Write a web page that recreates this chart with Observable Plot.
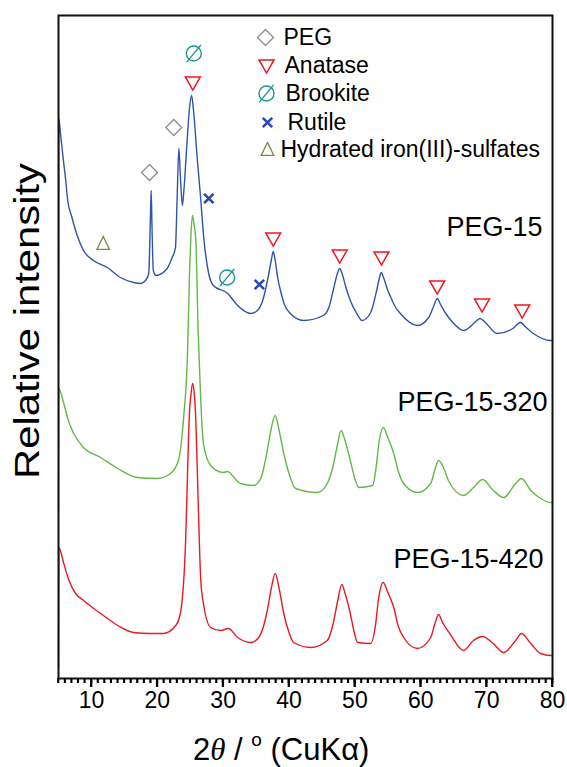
<!DOCTYPE html>
<html><head><meta charset="utf-8">
<script src="https://cdn.jsdelivr.net/npm/d3@7"></script>
<script src="https://cdn.jsdelivr.net/npm/@observablehq/plot@0.6"></script>
<style>body{margin:0;background:#fff}</style>
</head><body><div id="chart"></div>
<script>
// ---- data (2θ in degrees, relative intensity in arbitrary units incl. stacking offset) ----
const peg15_2theta = [5.0,5.05,5.3,5.8,6.1,6.4,7.0,7.6,8.8,10.3,12.4,14.4,16.4,17.5,18.2,18.7,18.95,19.07,19.2,19.4,19.8,21.5,22.2,22.76,23.0,23.27,23.5,23.8,24.0,24.5,24.9,25.2,25.5,26.05,26.55,27.05,27.8,28.5,30.7,32.2,34.2,35.2,35.9,36.4,36.9,37.3,37.6,37.9,38.3,38.7,39.3,40.2,42.2,45.2,46.1,46.7,47.3,47.7,48.1,48.6,49.3,50.2,51.1,52.4,53.3,53.7,54.0,54.4,55.0,55.4,56.1,56.9,59.5,61.2,62.0,62.5,63.0,63.8,65.0,66.5,68.2,69.0,69.8,71.6,74.0,75.1,76.0,77.1,79.7,80.0];
const peg15_int = [318,560,545,515,498,478,462,448,428,418,411,401,396,395,398,405,460,488,450,408,403,410,420,431,478,530,503,473,485,535,571,583,568,521,483,441,405,393,385,373,365,368,376,388,404,418,427,418,400,388,374,365,358,363,372,388,404,410,404,392,378,366,358,366,388,400,406,400,388,382,372,365,353,361,373,380,374,365,355,348,356,360,356,345,350,356,351,345,338,338];

const peg15_320_2theta = [5.0,5.05,5.8,6.5,7.3,8.8,11.4,14.0,17.0,20.0,22.0,23.2,24.0,24.6,24.9,25.1,25.35,25.6,25.85,26.2,26.6,27.0,28.1,30.0,30.7,31.4,32.6,34.6,35.7,36.7,37.3,37.9,38.5,39.2,40.0,41.0,44.3,45.8,46.6,47.3,47.9,48.5,49.3,49.9,50.6,52.7,53.2,53.7,54.3,55.0,55.9,56.6,57.4,59.5,61.5,62.2,62.7,63.3,64.2,66.5,68.0,69.4,71.0,72.6,74.4,75.3,76.7,78.2,79.7,80.0];
const peg15_320_int = [168,290,275,258,245,231,221,210,201,200,205,218,261,328,408,443,463,453,438,348,278,235,213,206,207,203,195,193,200,228,250,263,248,225,205,190,186,195,210,232,248,238,218,202,191,193,210,238,251,241,225,207,195,186,195,210,218,213,198,183,191,199,188,181,195,200,188,180,176,176];

const peg15_420_2theta = [5.0,5.05,5.8,6.6,7.6,8.8,11.4,14.0,16.4,18.9,20.9,22.8,23.5,24.3,24.6,24.9,25.1,25.35,25.6,25.85,26.2,26.6,27.0,28.1,29.6,30.8,32.2,34.2,35.4,36.7,37.3,37.9,38.5,39.2,40.0,40.7,43.3,45.8,46.6,47.4,48.0,48.6,49.3,49.9,50.4,52.4,53.1,53.6,54.3,55.0,55.9,56.6,57.4,59.5,61.5,62.2,62.7,63.3,64.4,66.5,68.0,69.4,71.0,72.6,74.4,75.3,76.7,78.2,79.7,80.0];
const peg15_420_int = [11,131,115,98,85,78,65,53,46,45,45,53,65,138,208,268,283,295,286,258,178,98,75,51,48,50,41,36,41,68,90,105,90,65,46,36,31,38,52,78,94,83,65,46,36,35,52,80,96,86,71,52,41,30,41,56,64,56,45,28,38,42,35,26,38,45,35,25,23,23];

const seriesNames = ["PEG-15", "PEG-15-320", "PEG-15-420"];
const seriesLabel2theta = [78.48, 79.24, 78.63];
const seriesLabelInt = [451, 276, 119];

// phase markers
const markerPhase = ["PEG","PEG","Anatase","Anatase","Anatase","Anatase","Anatase","Anatase","Anatase","Brookite","Brookite","Rutile","Rutile","Hydrated iron(III)-sulfates"];
const marker2theta = [18.82,22.5,25.39,37.6,47.7,54.04,62.5,69.3,75.4,25.54,30.6,27.82,35.5,11.79];
const markerInt = [506,551,596,440,423,421,392,374,368,625,401,480,394,435];

const legendPhases = ["PEG","Anatase","Brookite","Rutile","Hydrated iron(III)-sulfates"];
const xTicks = [10,20,30,40,50,60,70,80];
const xMinorTicks = d3.range(5, 81, 1);

// ---- styling ----
const lineColors = ["#3054a8", "#62b946", "#eb1923"];
const rad = s => Math.sqrt(s / Math.PI);
const symDiamond = {draw(c, s){ const r = rad(s); c.moveTo(0,-r); c.lineTo(r,0); c.lineTo(0,r); c.lineTo(-r,0); c.closePath(); }};
const symTriDown = {draw(c, s){ const r = rad(s); c.moveTo(-r,-0.75*r); c.lineTo(r,-0.75*r); c.lineTo(0,r); c.closePath(); }};
const symTriUp = {draw(c, s){ const r = rad(s); c.moveTo(-0.9*r,0.85*r); c.lineTo(0.9*r,0.85*r); c.lineTo(0,-r); c.closePath(); }};
const symSlashCircle = {draw(c, s){ const r = rad(s); c.moveTo(r,0); c.arc(0,0,r,0,2*Math.PI); c.moveTo(-0.95*r,1.15*r); c.lineTo(0.95*r,-1.15*r); }};
const symTimes = {draw(c, s){ const r = rad(s); c.moveTo(-r,-r); c.lineTo(r,r); c.moveTo(-r,r); c.lineTo(r,-r); }};
const phaseStyle = {
  "PEG": {symbol: symDiamond, stroke: "#8c8c8c", r: 8, sw: 1.3},
  "Anatase": {symbol: symTriDown, stroke: "#f01820", r: 7.5, sw: 1.5},
  "Brookite": {symbol: symSlashCircle, stroke: "#20968c", r: 7.5, sw: 1.4},
  "Rutile": {symbol: symTimes, stroke: "#2c48aa", r: 4.7, sw: 2.6},
  "Hydrated iron(III)-sulfates": {symbol: symTriUp, stroke: "#85843e", r: 7, sw: 1.3}
};

const series = [
  [peg15_2theta, peg15_int],
  [peg15_320_2theta, peg15_320_int],
  [peg15_420_2theta, peg15_420_int]
];

const marks = [];
series.forEach(([xs, ys], k) => {
  marks.push(Plot.line(d3.range(xs.length), {x: i => xs[i], y: i => ys[i], stroke: lineColors[k], strokeWidth: 1.4, curve: "monotone-x"}));
});
marks.push(Plot.text(d3.range(3), {x: i => seriesLabel2theta[i], y: i => seriesLabelInt[i], text: i => seriesNames[i], textAnchor: "end", lineAnchor: "middle", fontSize: 27, fill: "#000"}));

for (const phase of legendPhases) {
  const st = phaseStyle[phase];
  const idx = d3.range(markerPhase.length).filter(i => markerPhase[i] === phase);
  marks.push(Plot.dot(idx, {x: i => marker2theta[i], y: i => markerInt[i], symbol: st.symbol, r: st.r, fill: "none", stroke: st.stroke, strokeWidth: st.sw}));
}

// legend (inside frame, top right)
const legRowDy = [22, 50, 78, 107, 134];
const legSymDx = [207, 208, 208, 209, 209];
const legTextDx = [225, 226, 227, 229, 222];
legendPhases.forEach((phase, i) => {
  const st = phaseStyle[phase];
  marks.push(Plot.dot([0], {frameAnchor: "top-left", dx: legSymDx[i], dy: legRowDy[i], symbol: st.symbol, r: st.r, fill: "none", stroke: st.stroke, strokeWidth: st.sw}));
  marks.push(Plot.text([phase], {frameAnchor: "top-left", dx: legTextDx[i], dy: legRowDy[i], text: d => d, textAnchor: "start", lineAnchor: "middle", fontSize: 23, fill: "#000"}));
});

// outward x ticks as Plot tick marks (frame height 663 px inset from top, extended below)
marks.push(Plot.tickX(xMinorTicks, {x: d => d, insetTop: 663, insetBottom: -5, stroke: "#000", strokeWidth: 1.6}));
marks.push(Plot.tickX(xTicks, {x: d => d, insetTop: 663, insetBottom: -9, stroke: "#000", strokeWidth: 1.8}));
marks.push(Plot.axisX(xTicks, {tickSize: 0, tickPadding: 13, fontSize: 23, label: null}));
marks.push(Plot.frame({stroke: "#111", strokeWidth: 2}));

const chart = Plot.plot({
  width: 567, height: 767,
  marginLeft: 58, marginRight: 15, marginTop: 15, marginBottom: 89,
  style: {fontFamily: "'Liberation Sans', Arial, sans-serif", fontSize: "22px", background: "#fff", color: "#000", overflow: "visible"},
  x: {domain: [5, 80], label: null},
  y: {domain: [0, 663], axis: null},
  marks
});
document.getElementById("chart").appendChild(chart);

const svg = d3.select(chart);
// same ticks again through Plot's x scale, in case negative insets are not honoured
const xScale = chart.scale("x");
const yBottom = chart.scale("y").apply(0);
svg.append("path").attr("fill", "none").attr("stroke", "#000").attr("stroke-width", 1.6)
  .attr("d", xMinorTicks.map(d => `M${xScale.apply(d)},${yBottom}V${yBottom + 5}`).join(""));
svg.append("path").attr("fill", "none").attr("stroke", "#000").attr("stroke-width", 1.8)
  .attr("d", xTicks.map(d => `M${xScale.apply(d)},${yBottom}V${yBottom + 9}`).join(""));

// y-axis title
svg.append("text")
  .attr("transform", "translate(39,321) rotate(-90)")
  .attr("text-anchor", "middle")
  .attr("font-size", 35)
  .attr("textLength", 316).attr("lengthAdjust", "spacingAndGlyphs")
  .attr("fill", "#000")
  .text("Relative intensity");
// x-axis title
const xt = svg.append("text").attr("x", 193).attr("y", 760).attr("text-anchor", "start").attr("font-size", 31).attr("fill", "#000");
xt.append("tspan").text("2");
xt.append("tspan").attr("font-style", "italic").attr("font-family", "'Liberation Serif', serif").text("\u03b8");
xt.append("tspan").text(" / ");
xt.append("tspan").attr("font-size", 19).attr("dy", -14).text("o");
xt.append("tspan").attr("dy", 14).text(" (CuK");
xt.append("tspan").text("\u03b1");
xt.append("tspan").text(")");
</script>
</body></html>
